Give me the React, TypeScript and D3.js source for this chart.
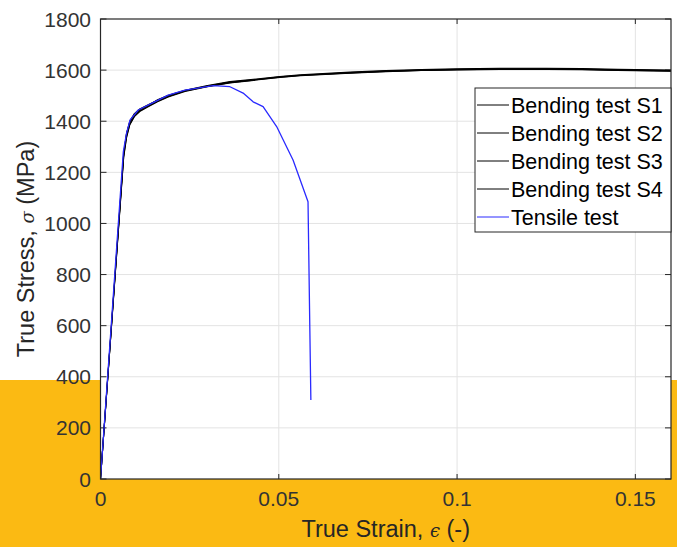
import React from "react";
import * as d3 from "d3";

const xTicks = [0, 0.05, 0.1, 0.15];
const xTickLabels = ["0", "0.05", "0.1", "0.15"];
const yTicks = [0, 200, 400, 600, 800, 1000, 1200, 1400, 1600, 1800];
const yTickLabels = ["0", "200", "400", "600", "800", "1000", "1200", "1400", "1600", "1800"];

const bendingStrain = [0, 0.0065, 0.0073, 0.0082, 0.0095, 0.011, 0.0135, 0.016, 0.019, 0.0237, 0.03, 0.0363, 0.045, 0.0503, 0.056, 0.07, 0.08, 0.09, 0.1, 0.112, 0.125, 0.135, 0.145, 0.16];
const bendingS1 = [0, 1270, 1350, 1400, 1430, 1448, 1465, 1482, 1500, 1520, 1538, 1553, 1565, 1574, 1580, 1590, 1596, 1600, 1603, 1605, 1605, 1604, 1601, 1598];
const bendingS2 = [0, 1262, 1340, 1388, 1420, 1440, 1460, 1478, 1497, 1518, 1536, 1551, 1564, 1572, 1579, 1589, 1595, 1599, 1602, 1604, 1604, 1603, 1600, 1597];
const bendingS3 = [0, 1275, 1352, 1395, 1425, 1444, 1463, 1484, 1502, 1521, 1540, 1555, 1567, 1575, 1582, 1592, 1598, 1602, 1605, 1607, 1607, 1606, 1603, 1600];
const bendingS4 = [0, 1258, 1335, 1385, 1418, 1438, 1458, 1476, 1495, 1516, 1535, 1550, 1563, 1571, 1578, 1588, 1594, 1599, 1601, 1603, 1603, 1602, 1599, 1596];

const tensileStrain = [0, 0.0064, 0.0073, 0.0083, 0.0106, 0.0143, 0.019, 0.0237, 0.0316, 0.0363, 0.04, 0.0428, 0.0456, 0.0494, 0.054, 0.0582, 0.0587, 0.059];
const tensileStress = [0, 1280, 1353, 1405, 1444, 1470, 1502, 1522, 1539, 1535, 1510, 1476, 1457, 1379, 1248, 1085, 596, 309];

const legendLabels = ["Bending test S1", "Bending test S2", "Bending test S3", "Bending test S4", "Tensile test"];
const legendColors = ["#000", "#000", "#000", "#000", "#2a2aff"];

export default function App() {
  const W = 677, H = 547;
  const left = 100.5, right = 671, top = 19, bottom = 479;
  const x = d3.scaleLinear().domain([0, 0.16]).range([left, right]);
  const y = d3.scaleLinear().domain([0, 1800]).range([bottom, top]);
  const line = d3.line<[number, number]>().x(d => x(d[0])).y(d => y(d[1]));
  const bending = [bendingS1, bendingS2, bendingS3, bendingS4];
  const font = "'Liberation Sans', Arial, sans-serif";
  const axisCol = "#262626";
  const legX = 475, legY = 88, legW = 196, legH = 144;

  return (
    <svg width={W} height={H} style={{ position: "fixed", left: 0, top: 0 }} fontFamily={font}>
      <rect x={0} y={0} width={W} height={H} fill="#fff" />
      <rect x={0} y={380} width={W} height={H - 380} fill="#FBBA13" />
      <rect x={left} y={top} width={right - left} height={bottom - top} fill="#fff" />
      {xTicks.slice(1).map((t, i) => (
        <line key={"gx" + i} x1={x(t)} x2={x(t)} y1={top} y2={bottom} stroke="#e3e3e3" strokeWidth={1} />
      ))}
      {yTicks.slice(1, -1).map((t, i) => (
        <line key={"gy" + i} x1={left} x2={right} y1={y(t)} y2={y(t)} stroke="#e3e3e3" strokeWidth={1} />
      ))}
      {xTicks.map((t, i) => (
        <g key={"tx" + i}>
          <line x1={x(t)} x2={x(t)} y1={bottom} y2={bottom - 5} stroke={axisCol} />
          <line x1={x(t)} x2={x(t)} y1={top} y2={top + 5} stroke={axisCol} />
          <text x={x(t)} y={506} fontSize={21} fill="#333" textAnchor="middle">{xTickLabels[i]}</text>
        </g>
      ))}
      {yTicks.map((t, i) => (
        <g key={"ty" + i}>
          <line x1={left} x2={left + 6} y1={y(t)} y2={y(t)} stroke={axisCol} />
          <line x1={right} x2={right - 6} y1={y(t)} y2={y(t)} stroke={axisCol} />
          <text x={91} y={y(t) + 7.5} fontSize={21} fill="#333" textAnchor="end">{yTickLabels[i]}</text>
        </g>
      ))}
      <g clipPath="url(#clip)">
        <clipPath id="clip"><rect x={left} y={top} width={right - left} height={bottom - top} /></clipPath>
        {bending.map((s, k) => (
          <path key={"b" + k} d={line(bendingStrain.map((e, i) => [e, s[i]]) as [number, number][]) || ""} fill="none" stroke="#000" strokeWidth={1.1} strokeLinejoin="round" />
        ))}
        <path d={line(tensileStrain.map((e, i) => [e, tensileStress[i]]) as [number, number][]) || ""} fill="none" stroke="#2a2aff" strokeWidth={1.3} strokeLinejoin="round" />
      </g>
      <rect x={left} y={top} width={right - left} height={bottom - top} fill="none" stroke={axisCol} strokeWidth={1.2} />
      <g>
        <rect x={legX} y={legY} width={legW} height={legH} fill="#fff" stroke={axisCol} strokeWidth={1} />
        {legendLabels.map((l, i) => (
          <g key={"l" + i}>
            <line x1={477} x2={509} y1={105 + i * 28} y2={105 + i * 28} stroke={legendColors[i]} strokeWidth={1} />
            <text x={511} y={112.5 + i * 28} fontSize={21.5} fill="#000">{l}</text>
          </g>
        ))}
      </g>
      <text x={(left + right) / 2} y={537} fontSize={23.5} fill="#262626" textAnchor="middle">
        True Strain, <tspan fontFamily="'DejaVu Serif', serif" fontStyle="italic" fontSize={18}>ϵ</tspan> (-)
      </text>
      <text transform={`translate(34, ${(top + bottom) / 2}) rotate(-90)`} fontSize={23.5} fill="#262626" textAnchor="middle">
        True Stress, <tspan fontFamily="'DejaVu Serif', serif" fontStyle="italic" fontSize={18}>σ</tspan> (MPa)
      </text>
    </svg>
  );
}
